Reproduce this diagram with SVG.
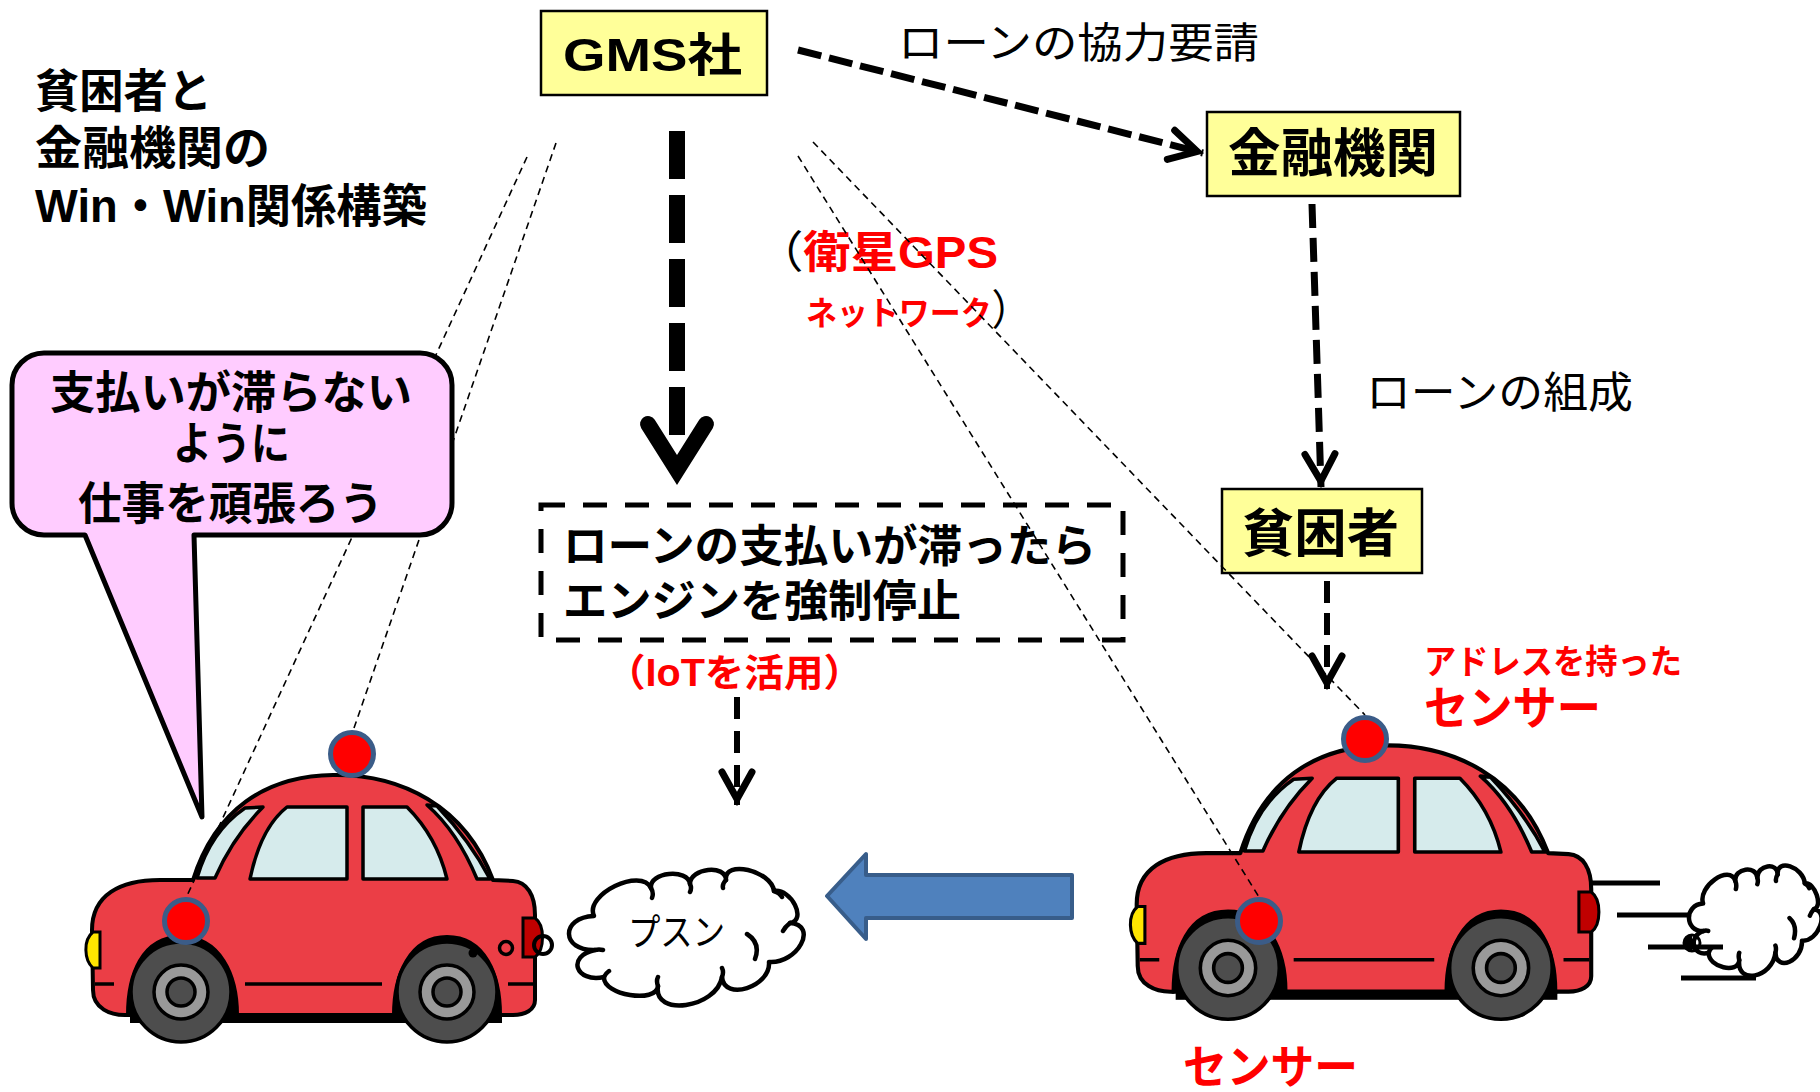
<svg xmlns="http://www.w3.org/2000/svg" xmlns:xlink="http://www.w3.org/1999/xlink" width="1820" height="1092" viewBox="0 0 1820 1092">
  <style>
    .t { font-family: "Liberation Sans", "Noto Sans CJK JP", sans-serif; fill: #000; }
    .b { font-weight: 700; }
    .r { font-weight: 400; }
    .red { fill: #FF0000; }
    .blk { fill: #000; font-weight: 400; }
    .box { fill: #FFFF99; stroke: #000; stroke-width: 2.5; }
    .dot { fill: none; stroke: #000; stroke-width: 1.6; stroke-dasharray: 7 5; }
    .arr { fill: none; stroke: #000; }
    .sensor { fill: #FF0000; stroke: #3B5C88; stroke-width: 5; }
    .body { fill: #EB3E46; stroke: #000; stroke-width: 4; stroke-linejoin: round; }
    .win { fill: #D6EBEC; stroke: #000; stroke-width: 3.5; stroke-linejoin: round; }
    .ln { fill: none; stroke: #000; stroke-width: 3.5; }
    .tyre { fill: #4D4D4D; stroke: #000; stroke-width: 3.5; }
    .rim { fill: #999999; stroke: #000; stroke-width: 3.5; }
    .cloud { fill: #FFFFFF; stroke: #000; stroke-width: 4.5; stroke-linejoin: round; vector-effect: non-scaling-stroke; }
    .hook { fill: none; stroke: #000; stroke-width: 4.5; stroke-linecap: round; vector-effect: non-scaling-stroke; }
  </style>
  <defs>
    <marker id="vee" markerUnits="userSpaceOnUse" viewBox="-50 -30 60 60" markerWidth="60" markerHeight="60" refX="0" refY="0" orient="auto" overflow="visible">
      <path d="M -33 -15 L -6 0 L -33 15" fill="none" stroke="#000" stroke-width="7" stroke-linecap="round" stroke-linejoin="miter"/>
    </marker>

    <!-- cloud outline, centred on 0,0 -->
    <g id="cloud-shape">
      <path class="cloud" d="M -90 13 C -124 14.3 -125 -19.7 -91 -21 C -101 -42.3 -44 -70.3 -34 -49 C -36 -65 3 -69 5 -53 C 5 -69 41 -73 41 -57 C 38.3 -77.7 86.3 -66.7 89 -46 C 106.3 -48.7 122.3 -16.7 105 -14 C 133.7 -12 112.7 27 84 25 C 86 49.7 39 64.7 37 40 C 31.7 71.3 -32.3 80.3 -27 49 C -28.3 67 -82.3 58 -81 40 C -109.7 46 -118.7 19 -90 13 Z"/>
      <path class="hook" d="M -34 -49 Q -31 -44 -33 -39 M 5 -53 Q 7 -49 5 -45 M 41 -57 Q 37 -53 38 -49 M 89 -46 Q 95 -44 97 -40 M 105 -14 Q 100 -10 98 -6 M 62 -3 Q 76 6 70 22 M 37 40 Q 39 35 37 31 M -27 49 Q -29 44 -27 40 M -81 40 Q -79 36 -76 34 M -90 13 Q -86 12 -82 13"/>
    </g>

    <!-- car drawing -->
    <g id="car">
      <path d="M 126 1017 C 126 972 142 933 181 933 C 220 933 239 972 239 1017 Z" fill="#000"/>
      <path d="M 392 1017 C 392 972 408 933 447 933 C 486 933 502 972 502 1017 Z" fill="#000"/>
      <rect x="130" y="1010" width="372" height="13" fill="#000"/>
      <path class="body" d="M 160 880 L 193 880 C 215 810 265 776 333 775 C 400 774 465 805 493 880 L 513 881 C 527 882 535 895 535 915 L 535 1000 C 535 1010 525 1015 513 1015 L 500 1015 C 500 975 485 937 447 937 C 410 937 394 975 394 1015 L 237 1015 C 237 975 220 937 181 937 C 142 937 128 975 128 1015 C 110 1016 93 1008 93 990 L 92 930 C 92 895 120 880 160 880 Z"/>
      <path class="win" d="M 197 878 C 205 850 220 825 245 808 L 263 807 C 240 830 225 855 215 878 Z"/>
      <path class="win" d="M 250 879 C 256 850 268 822 287 807 L 347 807 L 347 879 Z"/>
      <path class="win" d="M 363 807 L 407 807 C 425 825 440 850 447 879 L 363 879 Z"/>
      <path class="win" d="M 427 805 L 437 806 C 455 825 475 850 490 879 L 477 879 C 465 850 450 825 427 805 Z"/>
      <path class="ln" d="M 95 984 L 114 984 M 245 984 L 382 984 M 508 984 L 533 984"/>
      <path d="M 100 932 L 100 968 L 93 968 C 84 960 83 940 93 932 Z" fill="#FFE600" stroke="#000" stroke-width="3"/>
      <path d="M 523 918 L 535 918 C 545 925 545 950 535 957 L 523 957 Z" fill="#C00000" stroke="#000" stroke-width="3"/>
      <circle class="tyre" cx="181" cy="992" r="50"/>
      <circle class="rim" cx="181" cy="992" r="27"/>
      <circle class="tyre" cx="181" cy="992" r="14"/>
      <circle class="tyre" cx="447" cy="992" r="50"/>
      <circle class="rim" cx="447" cy="992" r="27"/>
      <circle class="tyre" cx="447" cy="992" r="14"/>
    </g>
  </defs>

  <rect width="1820" height="1092" fill="#FFFFFF"/>

  <!-- stalled car on the left -->
  <g id="car-left">
    <use xlink:href="#car"/>
    <circle cx="473" cy="953" r="4.5" fill="#000"/>
    <circle cx="506" cy="948" r="6.5" fill="none" stroke="#000" stroke-width="3.5"/>
    <circle cx="543" cy="945" r="9" fill="none" stroke="#000" stroke-width="4"/>
  </g>

  <!-- moving car on the right -->
  <g id="car-right">
    <use xlink:href="#car" transform="translate(1042.3 -49.8) scale(1.026)"/>
    <use xlink:href="#cloud-shape" transform="translate(1754.5 920.5) scale(0.565 0.807)"/>
    <path d="M 1590 883 L 1660 883 M 1617 915 L 1690 915 M 1648 947 L 1723 947 M 1681 978 L 1756 978" stroke="#000" stroke-width="5" fill="none"/>
    <circle cx="1692" cy="943" r="8" fill="none" stroke="#000" stroke-width="3"/>
    <path d="M 1692 935 A 8 8 0 0 0 1692 951 Z" fill="#000"/>
  </g>

  <!-- "engine stalls" cloud -->
  <g id="cloud-pusun">
    <use xlink:href="#cloud-shape" transform="translate(685 937)"/>
    <text class="t r" x="628" y="946" font-size="37" textLength="97" lengthAdjust="spacingAndGlyphs">プスン</text>
  </g>

  <!-- direction of travel -->
  <g id="move-arrow">
    <polygon points="827,896 866,854 866,875 1072,875 1072,918 866,918 866,939" fill="#4F81BD" stroke="#385D8A" stroke-width="4" stroke-linejoin="round"/>
  </g>

  <!-- heading -->
  <g id="title">
    <text class="t b" x="35" y="107" font-size="46" textLength="177" lengthAdjust="spacingAndGlyphs">貧困者と</text>
    <text class="t b" x="35" y="164" font-size="46" textLength="235" lengthAdjust="spacingAndGlyphs">金融機関の</text>
    <text class="t b" x="35" y="222" font-size="46" textLength="392" lengthAdjust="spacingAndGlyphs">Win・Win関係構築</text>
  </g>

  <g id="node-gms">
    <rect class="box" x="541" y="11" width="226" height="84"/>
    <text class="t b" x="563" y="71" font-size="46" textLength="179" lengthAdjust="spacingAndGlyphs">GMS社</text>
  </g>

  <g id="node-bank">
    <rect class="box" x="1207" y="112" width="253" height="84"/>
    <text class="t b" x="1228" y="172" font-size="52" textLength="210" lengthAdjust="spacingAndGlyphs">金融機関</text>
  </g>

  <g id="node-borrower">
    <rect class="box" x="1222" y="489" width="200" height="84"/>
    <text class="t b" x="1242" y="552" font-size="52" textLength="157" lengthAdjust="spacingAndGlyphs">貧困者</text>
  </g>

  <g id="node-stop">
    <rect x="541" y="505" width="582" height="135" fill="none" stroke="#000" stroke-width="5" stroke-dasharray="24 18"/>
    <text class="t b" x="563" y="562" font-size="44" textLength="533" lengthAdjust="spacingAndGlyphs">ローンの支払いが滞ったら</text>
    <text class="t b" x="563" y="617" font-size="44" textLength="398" lengthAdjust="spacingAndGlyphs">エンジンを強制停止</text>
  </g>

  <g id="labels">
    <text class="t r" x="898" y="58" font-size="42" textLength="361" lengthAdjust="spacingAndGlyphs">ローンの協力要請</text>
    <text class="t r" x="1366" y="408" font-size="43" textLength="267" lengthAdjust="spacingAndGlyphs">ローンの組成</text>
    <text class="t b" x="756" y="268" font-size="44" textLength="242" lengthAdjust="spacingAndGlyphs"><tspan class="blk">（</tspan><tspan class="red">衛星GPS</tspan></text>
    <text class="t b" x="806" y="325" font-size="33" textLength="225" lengthAdjust="spacingAndGlyphs"><tspan class="red">ネットワーク</tspan><tspan class="blk" font-size="42">）</tspan></text>
    <text class="t b red" x="606" y="686" font-size="38" textLength="257" lengthAdjust="spacingAndGlyphs">（IoTを活用）</text>
    <text class="t b red" x="1424" y="674" font-size="34" textLength="258" lengthAdjust="spacingAndGlyphs">アドレスを持った</text>
    <text class="t b red" x="1424" y="724" font-size="46" textLength="177" lengthAdjust="spacingAndGlyphs">センサー</text>
    <text class="t b red" x="1183" y="1083" font-size="46" textLength="175" lengthAdjust="spacingAndGlyphs">センサー</text>
  </g>

  <g id="connectors">
    <!-- satellite links to the sensors -->
    <path class="dot" d="M 556 143 L 353 731"/>
    <path class="dot" d="M 527 157 L 186 898"/>
    <path class="dot" d="M 813 142 L 1365 715"/>
    <path class="dot" d="M 798 156 L 1259 897"/>
    <!-- flow arrows -->
    <path class="arr" d="M 798 50 L 1203 153" stroke-width="7" stroke-dasharray="24 8" marker-end="url(#vee)"/>
    <path class="arr" d="M 677 131 L 677 436" stroke-width="16" stroke-dasharray="48 16"/>
    <path class="arr" d="M 648 424 L 677 470 L 706 424" stroke-width="16" stroke-linecap="round" stroke-linejoin="miter" stroke-miterlimit="10"/>
    <path class="arr" d="M 1312 204 L 1321 487" stroke-width="7" stroke-dasharray="24 10" marker-end="url(#vee)"/>
    <path class="arr" d="M 1327 581 L 1327 689" stroke-width="6" stroke-dasharray="22 10" marker-end="url(#vee)"/>
    <path class="arr" d="M 737 697 L 737 805" stroke-width="6" stroke-dasharray="22 12" marker-end="url(#vee)"/>
  </g>

  <g id="speech-bubble">
    <path d="M 44 353 L 420 353 A 32 32 0 0 1 452 385 L 452 503 A 32 32 0 0 1 420 535 L 194 535 L 202 817 L 85 535 L 44 535 A 32 32 0 0 1 12 503 L 12 385 A 32 32 0 0 1 44 353 Z" fill="#FFCCFF" stroke="#000" stroke-width="5" stroke-linejoin="round"/>
    <text class="t b" x="50" y="409" font-size="45" textLength="362" lengthAdjust="spacingAndGlyphs">支払いが滞らない</text>
    <text class="t b" x="173" y="460" font-size="45" textLength="117" lengthAdjust="spacingAndGlyphs">ように</text>
    <text class="t b" x="78" y="520" font-size="45" textLength="305" lengthAdjust="spacingAndGlyphs">仕事を頑張ろう</text>
  </g>

  <g id="sensors">
    <circle class="sensor" cx="352" cy="754" r="21.5"/>
    <circle class="sensor" cx="186" cy="921" r="21.5"/>
    <circle class="sensor" cx="1365" cy="739" r="21.5"/>
    <circle class="sensor" cx="1259" cy="921" r="21.5"/>
  </g>
</svg>
